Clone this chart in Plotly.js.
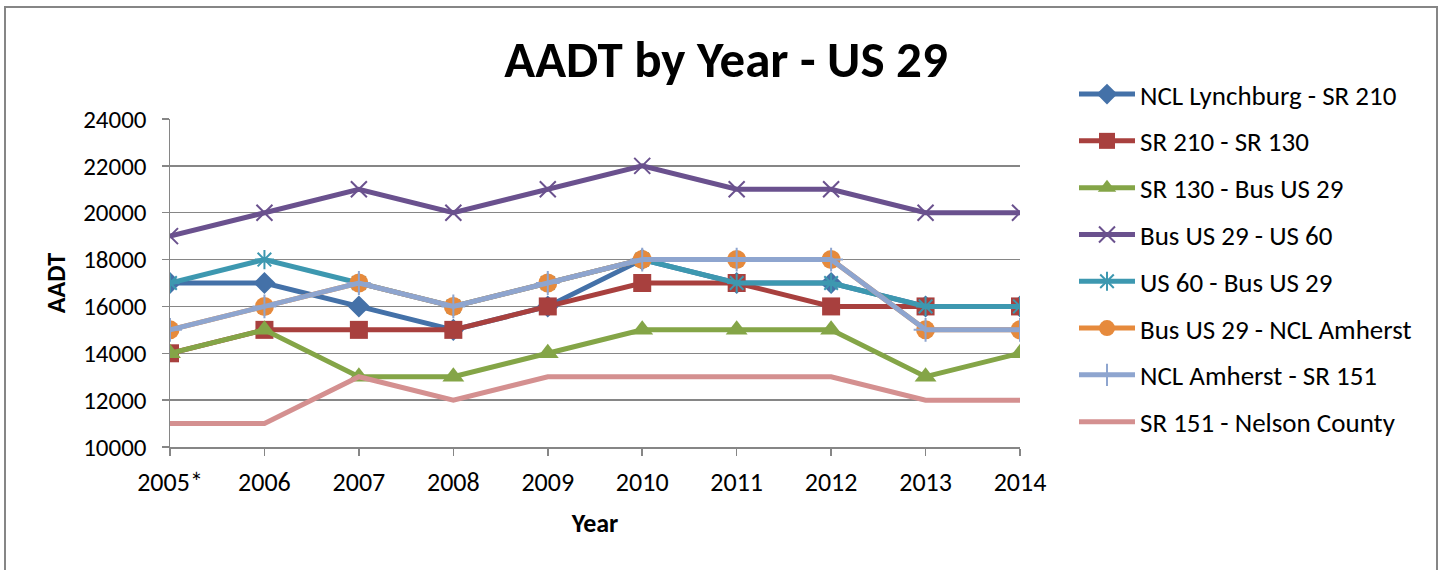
<!DOCTYPE html>
<html><head><meta charset="utf-8">
<script src="https://cdn.plot.ly/plotly-3.0.1.min.js"></script>
<style>html,body{margin:0;padding:0;background:#fff;}#chart{width:1444px;height:570px;}</style>
</head><body><div id="chart"></div>
<script>
const years = ["2005*","2006","2007","2008","2009","2010","2011","2012","2013","2014"];
const ynames = ["NCL Lynchburg - SR 210","SR 210 - SR 130","SR 130 - Bus US 29","Bus US 29 - US 60","US 60 - Bus US 29","Bus US 29 - NCL Amherst","NCL Amherst - SR 151","SR 151 - Nelson County"];
const nclLynchburgSR210 = [17000,17000,16000,15000,16000,18000,17000,17000,16000,16000];
const sr210SR130 = [14000,15000,15000,15000,16000,17000,17000,16000,16000,16000];
const sr130BusUS29 = [14000,15000,13000,13000,14000,15000,15000,15000,13000,14000];
const busUS29US60 = [19000,20000,21000,20000,21000,22000,21000,21000,20000,20000];
const us60BusUS29 = [17000,18000,17000,16000,17000,18000,17000,17000,16000,16000];
const busUS29NCLAmherst = [15000,16000,17000,16000,17000,18000,18000,18000,15000,15000];
const nclAmherstSR151 = [15000,16000,17000,16000,17000,18000,18000,18000,15000,15000];
const sr151NelsonCounty = [11000,11000,13000,12000,13000,13000,13000,13000,12000,12000];
const yTicks = [10000,12000,14000,16000,18000,20000,22000,24000];

const FONT = "Carlito, Calibri, Lato, 'Open Sans', sans-serif";
const series = [nclLynchburgSR210,sr210SR130,sr130BusUS29,busUS29US60,us60BusUS29,busUS29NCLAmherst,nclAmherstSR151,sr151NelsonCounty];
const colors = ["#4471A8","#A8403E","#84A547","#6A518E","#3D98B0","#E68A3C","#8EA5CF","#D49090"];
const markers = [
  {symbol:"diamond", size:17},
  {symbol:"square", size:18},
  {symbol:"triangle-up", size:19},
  {symbol:"x-thin-open", size:16, line:{width:2}},
  {symbol:"asterisk-open", size:16, line:{width:2}},
  {symbol:"circle", size:19},
  {symbol:"cross-thin-open", size:17, line:{width:2}},
  null
];
const traces = series.map((vals,i)=>{
  const t = {x: years, y: vals, name: ynames[i], type:"scatter",
    mode: markers[i] ? "lines+markers" : "lines",
    line:{color:colors[i], width:5}, legendgroup:"g"+i};
  if (markers[i]) {
    const m = Object.assign({color:colors[i]}, markers[i]);
    if (m.line) m.line = Object.assign({color:colors[i]}, m.line);
    t.marker = m;
  }
  return t;
});

const L=170, R=1020, T=119, B=447, W=1444, H=570;
const pw=R-L, ph=B-T;
const layout = {
  width:W, height:H,
  margin:{l:L, r:W-R, t:T, b:H-B, pad:0},
  paper_bgcolor:"#fff", plot_bgcolor:"#fff",
  font:{family:FONT, size:26, color:"#000"},
  title:{text:"<b>AADT by Year - US 29</b>", font:{family:FONT, size:51, color:"#000"}, x:(726-L)/pw, xref:"paper", xanchor:"center", y:1-59/H, yanchor:"middle"},
  xaxis:{type:"category", range:[0,9], showgrid:false, showline:true, linecolor:"#868686", linewidth:1.5,
    ticks:"outside", ticklen:7, tickcolor:"#868686", tickwidth:1.5, ticklabelstandoff:4,
    tickfont:{size:26}, title:{text:"<b>Year</b>", font:{size:26}, standoff:17}, zeroline:false, fixedrange:true},
  yaxis:{range:[10000,24000], tickvals:yTicks, ticktext:yTicks.map(String), showgrid:true, gridcolor:"#868686", gridwidth:1.5,
    showline:true, linecolor:"#868686", linewidth:1.5, ticks:"outside", ticklen:7, tickcolor:"#868686", tickwidth:1.5,
    ticklabelstandoff:10, tickfont:{size:25}, title:{text:"<b>AADT</b>", font:{size:26}, standoff:10}, zeroline:false, fixedrange:true},
  legend:{x:(1074-L)/pw, xanchor:"left", y:1-(70-T)/ph, yanchor:"top", font:{size:27}, itemwidth:56,
    traceorder:"grouped", tracegroupgap:8.7, bgcolor:"rgba(0,0,0,0)", maxheight:520},
  showlegend:true,
  shapes:[{type:"rect", xref:"paper", yref:"paper", x0:(5-L)/pw, x1:(1437-L)/pw, y0:(B-600)/ph, y1:(B-7)/ph,
    line:{color:"#868686", width:2}, fillcolor:"rgba(0,0,0,0)", layer:"below"}]
};
Plotly.newPlot("chart", traces, layout, {displayModeBar:false, staticPlot:true});
</script></body></html>
